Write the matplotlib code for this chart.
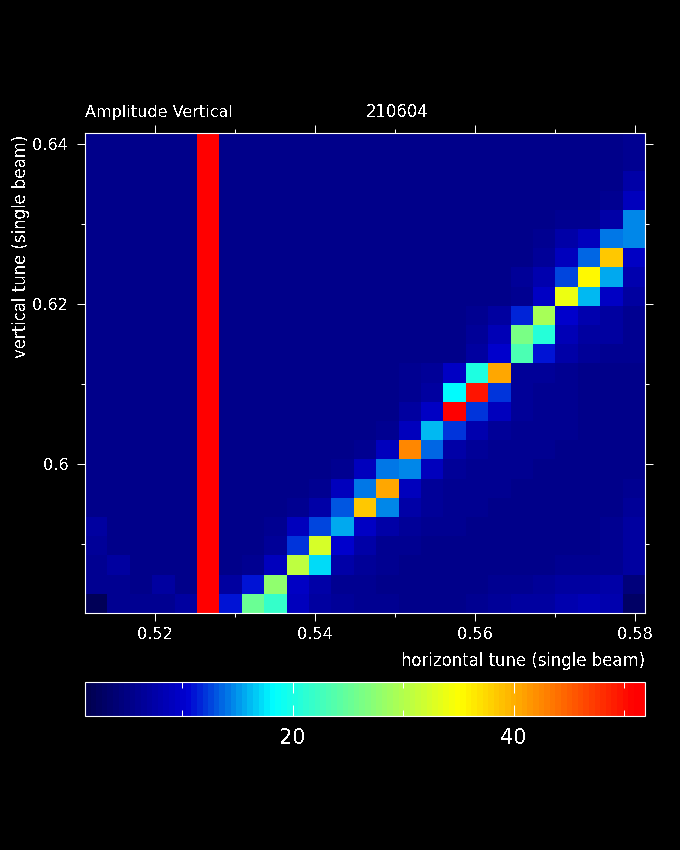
import matplotlib
matplotlib.use("Agg")
import matplotlib.pyplot as plt
import numpy as np
from matplotlib.colors import LinearSegmentedColormap, Normalize
from matplotlib.ticker import MultipleLocator

# amplitude per cell, top row first, 25 x 25
amp_rows = [
    [5.5, 5.5, 5.3, 5.3, 5.3, 52, 5.4, 5.4, 5.4, 5.4, 5.4, 5.4, 5.3, 5.3, 5.3, 5.3, 5.3, 5.3, 5.3, 5.3, 5.3, 5.3, 5.3, 5.3, 5.8],
    [5.5, 5.5, 5.3, 5.3, 5.3, 52, 5.4, 5.4, 5.4, 5.4, 5.4, 5.4, 5.3, 5.3, 5.3, 5.3, 5.3, 5.3, 5.3, 5.3, 5.3, 5.3, 5.3, 5.3, 6.2],
    [5.5, 5.5, 5.3, 5.3, 5.3, 52, 5.4, 5.4, 5.4, 5.4, 5.4, 5.4, 5.3, 5.3, 5.3, 5.3, 5.3, 5.3, 5.3, 5.3, 5.3, 5.4, 5.4, 5.5, 7.3],
    [5.5, 5.5, 5.3, 5.3, 5.3, 52, 5.4, 5.4, 5.4, 5.4, 5.4, 5.4, 5.3, 5.3, 5.3, 5.3, 5.3, 5.3, 5.3, 5.3, 5.3, 5.4, 5.5, 5.8, 9.2],
    [5.5, 5.5, 5.3, 5.3, 5.3, 52, 5.4, 5.4, 5.4, 5.4, 5.4, 5.4, 5.3, 5.3, 5.3, 5.3, 5.3, 5.3, 5.4, 5.5, 5.6, 5.8, 6.0, 7.6, 14.4],
    [5.5, 5.5, 5.3, 5.3, 5.3, 52, 5.4, 5.4, 5.4, 5.4, 5.4, 5.4, 5.3, 5.3, 5.3, 5.3, 5.3, 5.3, 5.4, 5.5, 5.8, 7.5, 9.0, 13.9, 14.4],
    [5.5, 5.5, 5.3, 5.3, 5.3, 52, 5.4, 5.4, 5.4, 5.4, 5.4, 5.4, 5.3, 5.3, 5.3, 5.3, 5.3, 5.3, 5.4, 5.6, 6.6, 8.9, 13.4, 38.5, 9.6],
    [5.5, 5.5, 5.3, 5.3, 5.3, 52, 5.4, 5.4, 5.4, 5.4, 5.4, 5.4, 5.3, 5.3, 5.3, 5.3, 5.3, 5.4, 5.6, 6.4, 7.8, 12.5, 35.2, 15.5, 8.2],
    [5.5, 5.5, 5.3, 5.3, 5.3, 52, 5.4, 5.4, 5.4, 5.4, 5.4, 5.4, 5.3, 5.3, 5.3, 5.3, 5.4, 5.5, 5.6, 6.2, 9.6, 33.8, 16.1, 9.6, 7.0],
    [5.5, 5.5, 5.3, 5.3, 5.3, 52, 5.4, 5.4, 5.4, 5.4, 5.4, 5.4, 5.3, 5.3, 5.3, 5.4, 5.5, 6.0, 6.8, 11.6, 29.2, 10.2, 8.0, 7.0, 6.2],
    [5.5, 5.5, 5.3, 5.3, 5.3, 52, 5.4, 5.4, 5.4, 5.4, 5.4, 5.4, 5.3, 5.3, 5.4, 5.4, 5.6, 6.4, 8.4, 26.5, 20.9, 8.4, 7.2, 6.8, 6.0],
    [5.5, 5.5, 5.3, 5.3, 5.3, 52, 5.4, 5.4, 5.4, 5.4, 5.4, 5.4, 5.3, 5.3, 5.4, 5.4, 5.6, 7.2, 10.0, 23.5, 11.2, 7.6, 6.4, 6.0, 5.8],
    [5.5, 5.5, 5.4, 5.4, 5.4, 52, 5.4, 5.4, 5.4, 5.4, 5.4, 5.4, 5.3, 5.3, 6.2, 6.4, 9.6, 20.2, 40.5, 6.6, 6.4, 5.8, 5.6, 5.5, 5.5],
    [5.5, 5.5, 5.4, 5.4, 5.4, 52, 5.4, 5.4, 5.4, 5.4, 5.4, 5.4, 5.3, 5.4, 6.2, 7.2, 18.2, 49.8, 12.2, 6.4, 6.2, 5.8, 5.6, 5.5, 5.5],
    [5.5, 5.5, 5.4, 5.4, 5.4, 52, 5.4, 5.4, 5.4, 5.4, 5.4, 5.4, 5.4, 5.6, 6.8, 9.6, 52, 12.2, 8.9, 6.4, 6.2, 5.8, 5.6, 5.5, 5.5],
    [5.5, 5.5, 5.4, 5.4, 5.4, 52, 5.4, 5.4, 5.4, 5.4, 5.4, 5.4, 5.5, 6.0, 8.9, 16.1, 12.2, 8.2, 6.6, 6.2, 6.0, 5.8, 5.6, 5.5, 5.5],
    [5.5, 5.5, 5.4, 5.4, 5.4, 52, 5.4, 5.4, 5.4, 5.4, 5.4, 5.4, 6.0, 8.9, 42.5, 13.4, 7.5, 6.6, 6.2, 6.0, 5.8, 5.7, 5.6, 5.5, 5.5],
    [5.5, 5.5, 5.4, 5.4, 5.4, 52, 5.4, 5.4, 5.4, 5.4, 5.4, 6.2, 8.9, 13.9, 14.4, 8.9, 6.4, 6.2, 6.0, 5.8, 5.7, 5.6, 5.6, 5.5, 5.6],
    [5.5, 5.4, 5.4, 5.4, 5.4, 52, 5.4, 5.4, 5.4, 5.4, 6.2, 8.9, 13.9, 40.5, 8.9, 6.6, 6.2, 6.0, 5.8, 5.7, 5.6, 5.6, 5.6, 5.5, 5.8],
    [5.5, 5.4, 5.4, 5.4, 5.4, 52, 5.4, 5.4, 5.5, 5.8, 7.5, 13.1, 38.5, 14.4, 7.5, 6.4, 6.0, 5.8, 5.7, 5.6, 5.6, 5.6, 5.6, 5.6, 6.4],
    [6.8, 5.6, 5.4, 5.4, 5.4, 52, 5.4, 5.5, 6.0, 8.9, 12.5, 15.5, 9.6, 7.5, 6.4, 6.0, 5.8, 5.7, 5.6, 5.6, 5.6, 5.6, 5.6, 5.8, 6.8],
    [6.4, 5.5, 5.4, 5.4, 5.4, 52, 5.5, 5.6, 6.6, 12.2, 32.2, 10.0, 7.6, 6.2, 5.8, 5.7, 5.6, 5.6, 5.6, 5.6, 5.6, 5.6, 5.6, 5.8, 6.8],
    [5.8, 6.8, 5.6, 5.5, 5.5, 52, 5.5, 5.8, 8.9, 30.9, 17.2, 7.5, 6.4, 5.8, 5.7, 5.6, 5.6, 5.6, 5.6, 5.7, 5.7, 5.8, 5.8, 6.2, 7.2],
    [6.0, 5.8, 5.6, 6.8, 5.7, 52, 6.8, 10.9, 27.9, 9.6, 7.5, 6.2, 5.8, 5.7, 5.6, 5.6, 5.6, 5.6, 5.8, 6.0, 6.4, 6.8, 6.8, 7.4, 4.4],
    [2.2, 5.8, 5.8, 5.8, 6.8, 52, 11.2, 25.5, 21.5, 8.9, 7.2, 6.4, 6.0, 5.8, 5.7, 5.7, 5.7, 5.8, 6.4, 6.8, 7.0, 8.0, 8.4, 7.8, 3.0],
]

x_lim = [0.5113, 0.5813]
y_lim = [0.5814, 0.6414]
amp_lim = [1.2, 51.9]
title_left = "Amplitude Vertical"
title_mid = "210604"
x_label = "horizontal tune (single beam)"
y_label = "vertical tune (single beam)"
FIG_W, FIG_H = 680, 850

# jet like map, 100 flat steps like the original bar
beam_cmap = LinearSegmentedColormap.from_list(
    "beam",
    [
        (0.0, (0, 0, 80 / 255)),
        (0.18, (0, 0, 210 / 255)),
        (0.335, (0, 1, 1)),
        (0.67, (1, 1, 0)),
        (0.985, (1, 0, 0)),
        (1.0, (1, 0, 0)),
    ],
    N=100,
)


def px_axes(fig, left, top, right, bottom):
    return fig.add_axes(
        [left / FIG_W, 1 - bottom / FIG_H, (right - left) / FIG_W, (bottom - top) / FIG_H]
    )


def white_frame(ax):
    ax.set_facecolor("black")
    for sp in ax.spines.values():
        sp.set_color("white")
        sp.set_linewidth(0.8)


plt.rcParams["font.family"] = "DejaVu Sans"
# the original text is thin and hard edged
plt.rcParams["text.antialiased"] = False
fig = plt.figure(figsize=(FIG_W / 100, FIG_H / 100), dpi=100, facecolor="black")

ax = px_axes(fig, 85, 133, 645, 613)
im = ax.imshow(
    np.array(amp_rows),
    cmap=beam_cmap,
    norm=Normalize(amp_lim[0], amp_lim[1]),
    extent=[x_lim[0], x_lim[1], y_lim[0], y_lim[1]],
    origin="upper",
    aspect="auto",
    interpolation="nearest",
)
ax.set_xlim(x_lim)
ax.set_ylim(y_lim)
white_frame(ax)
ax.xaxis.set_minor_locator(MultipleLocator(0.01))
ax.yaxis.set_minor_locator(MultipleLocator(0.01))
ax.set_xticks([0.52, 0.54, 0.56, 0.58])
ax.set_xticklabels(["0.52", "0.54", "0.56", "0.58"])
ax.set_yticks([0.6, 0.62, 0.64])
ax.set_yticklabels(["0.6", "0.62", "0.64"])
ax.tick_params(
    which="major", direction="out", length=5.8, width=0.72, color="white",
    labelcolor="white", labelsize=11.6, top=True, right=True,
)
ax.tick_params(axis="x", which="major", pad=4.6)
ax.tick_params(axis="y", which="major", pad=6.2)
ax.tick_params(
    which="minor", direction="out", length=2.9, width=0.72, color="white",
    top=True, right=True,
)

fig.text(85 / FIG_W, 1 - 112 / FIG_H, title_left, color="white", fontsize=11.5, va="center", ha="left")
fig.text(397 / FIG_W, 1 - 112 / FIG_H, title_mid, color="white", fontsize=11.9, va="center", ha="center")
fig.text(645 / FIG_W, 1 - 661 / FIG_H, x_label, color="white", fontsize=11.9, va="center", ha="right")
fig.text(21 / FIG_W, 1 - 246 / FIG_H, y_label, color="white", fontsize=11.9, va="center", ha="center", rotation=90)

cax = px_axes(fig, 85, 682, 645, 716)
cb = fig.colorbar(im, cax=cax, orientation="horizontal", drawedges=False)
cb.outline.set_edgecolor("white")
cb.outline.set_linewidth(0.8)
cb.set_ticks([20, 40])
cb.set_ticklabels(["20", "40"])
cb.ax.xaxis.set_minor_locator(MultipleLocator(10))
cb.ax.tick_params(
    which="major", direction="in", length=8, width=0.72, color="white",
    labelcolor="white", labelsize=15, top=True, bottom=True, pad=8.5,
)
cb.ax.tick_params(
    which="minor", direction="in", length=4.3, width=0.72, color="white",
    top=True, bottom=True,
)

fig.savefig("out.png", dpi=100, facecolor="black")
